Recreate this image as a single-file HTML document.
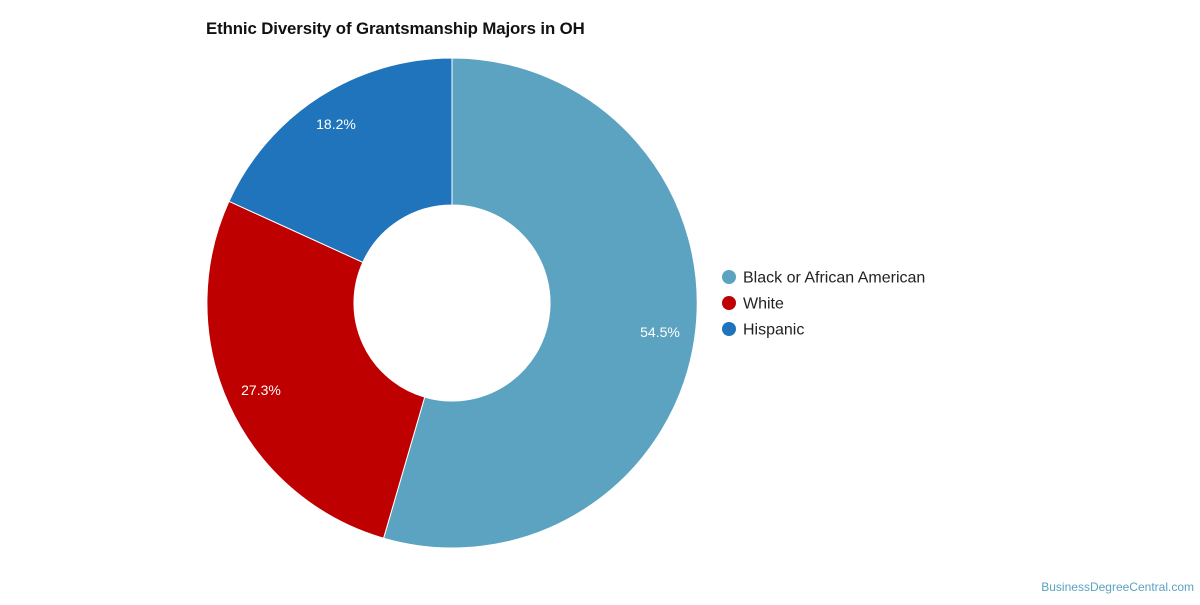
<!DOCTYPE html>
<html><head><meta charset="utf-8"><style>
html,body{margin:0;padding:0;background:#fff;}
body{width:1200px;height:600px;overflow:hidden;font-family:"Liberation Sans",sans-serif;}
</style></head><body>
<svg width="1200" height="600" viewBox="0 0 1200 600" xmlns="http://www.w3.org/2000/svg" font-family="Liberation Sans, sans-serif">
<text x="206" y="34" font-size="16.8" font-weight="bold" fill="#111" letter-spacing="-0.1">Ethnic Diversity of Grantsmanship Majors in OH</text>
<path d="M452,58 A245,245 0 1 1 383.6,538.2 L424.7,397.1 A98,98 0 1 0 452,205 Z" fill="#5ba3c0" stroke="#fff" stroke-width="1"/>
<path d="M383.6,538.2 A245,245 0 0 1 229,201.3 L362.8,262.3 A98,98 0 0 0 424.7,397.1 Z" fill="#bf0000" stroke="#fff" stroke-width="1"/>
<path d="M229,201.3 A245,245 0 0 1 452,58 L452,205 A98,98 0 0 0 362.8,262.3 Z" fill="#1f74bb" stroke="#fff" stroke-width="1"/>
<g font-size="14" fill="#fff" text-anchor="middle">
<text x="660" y="337">54.5%</text>
<text x="261" y="395">27.3%</text>
<text x="336" y="129">18.2%</text>
</g>
<g font-size="16" fill="#222">
<circle cx="729" cy="277" r="7" fill="#5ba3c0"/><text x="743" y="282.5">Black or African American</text>
<circle cx="729" cy="303" r="7" fill="#bf0000"/><text x="743" y="308.5">White</text>
<circle cx="729" cy="329" r="7" fill="#1f74bb"/><text x="743" y="334.5">Hispanic</text>
</g>
<text x="1194" y="591" font-size="12" fill="#5ba3c0" text-anchor="end">BusinessDegreeCentral.com</text>
</svg>
</body></html>
